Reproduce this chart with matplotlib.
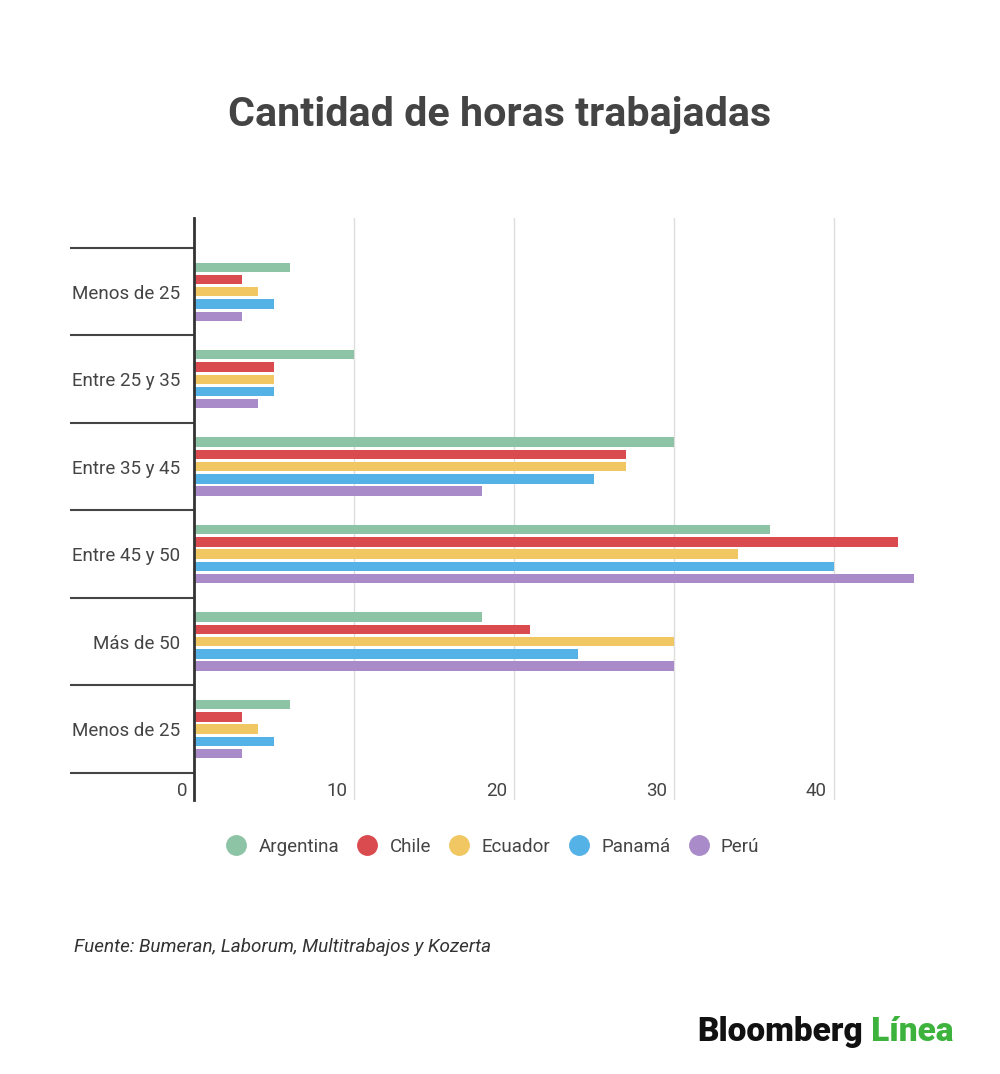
import matplotlib
matplotlib.use("Agg")
import matplotlib.pyplot as plt
import matplotlib.transforms as mtransforms
from matplotlib.lines import Line2D
import numpy as np

plt.rcParams['font.family'] = ['Roboto', 'DejaVu Sans']

categories = ["Menos de 25", "Entre 25 y 35", "Entre 35 y 45", "Entre 45 y 50", "Más de 50", "Menos de 25"]
series_names = ["Argentina", "Chile", "Ecuador", "Panamá", "Perú"]
argentina = [6, 10, 30, 36, 18, 6]
chile = [3, 5, 27, 44, 21, 3]
ecuador = [4, 5, 27, 34, 30, 4]
panama = [5, 5, 25, 40, 24, 5]
peru = [3, 4, 18, 45, 30, 3]
x_ticks = [0, 10, 20, 30, 40]
x_tick_labels = ["0", "10", "20", "30", "40"]

colors = ["#8dc4a6", "#da4b4f", "#f0c762", "#55b2e6", "#a98bc9"]
series = [argentina, chile, ecuador, panama, peru]

fig = plt.figure(figsize=(10, 10.74), dpi=100)
ax = fig.add_axes([0.194, 1 - 800/1074, 0.752, (800-218)/1074])

y = np.arange(len(categories))
pitch = 0.14
h = 0.108
for i, (vals, c) in enumerate(zip(series, colors)):
    ax.barh(y + (i - 2) * pitch, vals, height=h, color=c, zorder=3)

ax.set_xlim(0, 47)
ax.set_ylim(5.81, -0.843)

for s in ["top", "right", "bottom"]:
    ax.spines[s].set_visible(False)
ax.spines["left"].set_color("#333333")
ax.spines["left"].set_linewidth(2)
ax.spines["left"].set_zorder(4)

ax.set_xticks(x_ticks)
ax.set_xticklabels(x_tick_labels)
ax.grid(axis="x", color="#dddddd", linewidth=1, zorder=0)
ax.tick_params(axis="x", length=0, pad=-13, labelsize=13.5, labelcolor="#444444")
offset = mtransforms.ScaledTranslation(-7/100, 0, fig.dpi_scale_trans)
for lab in ax.get_xticklabels():
    lab.set_horizontalalignment("right")
    lab.set_transform(lab.get_transform() + offset)

ax.set_yticks(y)
ax.set_yticklabels(categories)
ax.tick_params(axis="y", which="major", length=0, pad=10, labelsize=13.5, labelcolor="#444444")
ax.set_yticks(np.arange(-0.5, len(categories)), minor=True)
ax.tick_params(axis="y", which="minor", length=89, width=1.5, color="#444444")

fig.text(0.4995, 1 - 115/1074, "Cantidad de horas trabajadas", ha="center", va="center",
         fontsize=29.7, fontweight="bold", color="#444444")

handles = [Line2D([0], [0], marker="o", linestyle="", markersize=14, markerfacecolor=c,
                  markeredgecolor=c) for c in colors]
fig.legend(handles, series_names, loc="center", bbox_to_anchor=(0.492, 1 - 847/1074), ncol=5,
           frameon=False, fontsize=13.5, labelcolor="#444444", handletextpad=0.6,
           columnspacing=0.9, handlelength=1.2)

fig.text(0.074, 1 - 947/1074, "Fuente: Bumeran, Laborum, Multitrabajos y Kozerta", ha="left",
         va="center", fontsize=13.6, fontstyle="italic", color="#333333")

t1 = fig.text(0.697, 1 - 1032/1074, "Bloomberg", ha="left", va="center", fontsize=24,
              fontweight="black", color="#111111")
ax.annotate(" Línea", xy=(1, 0), xycoords=t1, va="bottom", ha="left", fontsize=24,
            fontweight="black", color="#3db33d", annotation_clip=False)

fig.savefig("out.png", dpi=100, facecolor="white")
